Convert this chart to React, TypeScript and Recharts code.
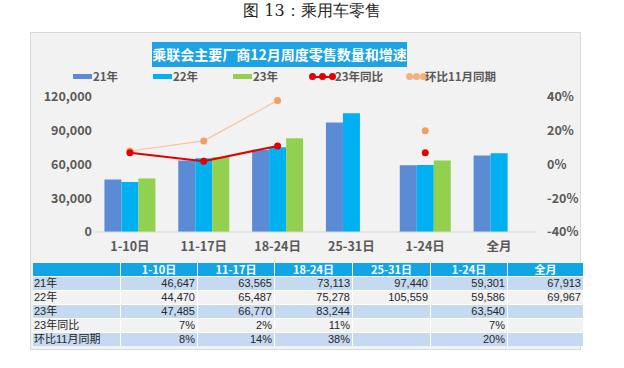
import React from 'react';
import { ComposedChart, Bar, Line, XAxis, YAxis } from 'recharts';

const categories = ['1-10日', '11-17日', '18-24日', '25-31日', '1-24日', '全月'];
const sales21 = [46647, 63565, 73113, 97440, 59301, 67913];
const sales22 = [44470, 65487, 75278, 105559, 59586, 69967];
const sales23: (number | null)[] = [47485, 66770, 83244, null, 63540, null];
const yoy23: (number | null)[] = [0.07, 0.02, 0.11, null, 0.07, null];
const momNov: (number | null)[] = [0.08, 0.14, 0.38, null, 0.2, null];
const seriesNames = ['21年', '22年', '23年', '23年同比', '环比11月同期'];
const leftTicks = [0, 30000, 60000, 90000, 120000];
const rightTicks = [-0.4, -0.2, 0, 0.2, 0.4];
const captionText = '图 13：乘用车零售';
const titleText = '乘联会主要厂商12月周度零售数量和增速';

const C21 = '#5B8BD4';
const C22 = '#00B0F0';
const C23 = '#92D050';
const CRED = '#E00000';
const CORG_LINE = '#F6C6A0';
const CORG_DOT = '#F0A060';

const data = categories.map((c, i) => ({
  cat: c,
  s21: sales21[i],
  s22: sales22[i],
  s23: sales23[i],
  yoy: yoy23[i],
  mom: momNov[i],
}));

const fmtNum = (v: number | null) => (v == null ? '' : v.toLocaleString('en-US'));
const fmtPct = (v: number | null) => (v == null ? '' : Math.round(v * 100) + '%');

const FONT = '"Noto Sans CJK SC", "Liberation Sans", sans-serif';
const TFONT = '"Liberation Sans", "Noto Sans CJK SC", sans-serif';

const tickStyle = { fill: '#595959', fontSize: 12.5, fontWeight: 700, fontFamily: FONT };

function Legend() {
  const txt: React.CSSProperties = {
    position: 'absolute',
    top: 69,
    fontSize: 11.5,
    fontWeight: 700,
    color: '#595959',
    fontFamily: FONT,
    lineHeight: '14px',
    whiteSpace: 'nowrap',
  };
  const sw = (left: number, color: string) => (
    <div style={{ position: 'absolute', left, top: 74, width: 19, height: 5, background: color }} />
  );
  const dotLine = (xs: number[], color: string, lineColor: string) => (
    <>
      <div style={{ position: 'absolute', left: xs[0], top: 75.5, width: xs[2] - xs[0], height: 2, background: lineColor }} />
      {xs.map((x, i) => (
        <div key={i} style={{ position: 'absolute', left: x - 3.5, top: 73, width: 7, height: 7, borderRadius: 4, background: color }} />
      ))}
    </>
  );
  return (
    <>
      {sw(73, C21)}
      <div style={{ ...txt, left: 93 }}>{seriesNames[0]}</div>
      {sw(153, C22)}
      <div style={{ ...txt, left: 173 }}>{seriesNames[1]}</div>
      {sw(233, C23)}
      <div style={{ ...txt, left: 253 }}>{seriesNames[2]}</div>
      {dotLine([312, 322, 332], CRED, CRED)}
      <div style={{ ...txt, left: 335 }}>{seriesNames[3]}</div>
      {dotLine([409, 416, 423], '#F2B27E', CORG_LINE)}
      <div style={{ ...txt, left: 425 }}>{seriesNames[4]}</div>
    </>
  );
}

function DataTable() {
  const colW = [87, 76, 76, 77, 77, 76, 75];
  const rows: { label: string; values: string[] }[] = [
    { label: seriesNames[0], values: sales21.map(fmtNum) },
    { label: seriesNames[1], values: sales22.map(fmtNum) },
    { label: seriesNames[2], values: sales23.map(fmtNum) },
    { label: seriesNames[3], values: yoy23.map(fmtPct) },
    { label: seriesNames[4], values: momNov.map(fmtPct) },
  ];
  const rowH = 13;
  const cell = (content: string, w: number, bg: string, align: 'left' | 'right' | 'center', header = false, key?: any) => (
    <div
      key={key}
      style={{
        width: w,
        height: rowH,
        background: bg,
        textAlign: align,
        fontSize: 11,
        lineHeight: rowH + 'px',
        fontFamily: header ? FONT : TFONT,
        fontWeight: header ? 700 : 400,
        color: header ? '#FFFFFF' : '#262626',
        paddingLeft: align === 'left' ? 1 : 0,
        paddingRight: align === 'right' ? 2 : 0,
        boxSizing: 'border-box',
        whiteSpace: 'nowrap',
      }}
    >
      {content}
    </div>
  );
  const HB = '#12A5E6';
  return (
    <div
      style={{
        position: 'absolute',
        left: 33,
        top: 263,
        display: 'flex',
        flexDirection: 'column',
        gap: 1,
        background: '#FFFFFF',
      }}
    >
      <div style={{ display: 'flex', gap: 1 }}>
        {cell('', colW[0], HB, 'center', true)}
        {categories.map((c, i) => cell(c, colW[i + 1], HB, 'center', true, i))}
      </div>
      {rows.map((r, ri) => {
        const bg = ri % 2 === 0 ? '#C5D9F1' : '#F2F2F2';
        return (
          <div key={ri} style={{ display: 'flex', gap: 1 }}>
            <div
              style={{
                width: colW[0],
                height: rowH,
                background: bg,
                fontSize: 11,
                lineHeight: rowH + 'px',
                fontFamily: TFONT,
                color: '#262626',
                paddingLeft: 1,
                boxSizing: 'border-box',
                whiteSpace: 'nowrap',
              }}
            >
              {r.label}
            </div>
            {r.values.map((v, i) => cell(v, colW[i + 1], bg, 'right', false, i))}
          </div>
        );
      })}
    </div>
  );
}

export default function App() {
  return (
    <div style={{ position: 'absolute', left: 0, top: 0, width: 624, height: 368, background: '#FFFFFF', overflow: 'hidden' }}>
      <div
        style={{
          position: 'absolute',
          left: 0,
          top: 2,
          width: 624,
          textAlign: 'center',
          fontSize: 16,
          fontFamily: '"DejaVu Serif", serif',
          color: '#262626',
          lineHeight: '18px',
        }}
      >
        {captionText}
      </div>
      <div
        style={{
          position: 'absolute',
          left: 30,
          top: 32,
          width: 551,
          height: 318,
          background: '#F2F2F2',
          border: '1px solid #D9D9D9',
          boxSizing: 'border-box',
        }}
      />
      <div
        style={{
          position: 'absolute',
          left: 152,
          top: 42,
          width: 255,
          height: 25,
          background: '#1BA3E6',
          color: '#FFFFFF',
          fontFamily: FONT,
          fontWeight: 700,
          fontSize: 14,
          lineHeight: '25px',
          textAlign: 'center',
          whiteSpace: 'nowrap',
        }}
      >
        {titleText}
      </div>
      <Legend />
      <div style={{ position: 'absolute', left: 30, top: 32 }}>
        <ComposedChart
          width={551}
          height={228}
          data={data}
          margin={{ top: 65, right: 0, left: 0, bottom: 0 }}
          barGap={0}
          barCategoryGap="15.5%"
        >
          <XAxis
            dataKey="cat"
            height={28}
            tickLine={false}
            tickSize={0}
            tickMargin={10}
            axisLine={{ stroke: '#D9D9D9' }}
            tick={tickStyle}
            interval={0}
          />
          <YAxis
            yAxisId="left"
            orientation="left"
            width={63}
            domain={[0, 120000]}
            ticks={leftTicks}
            tickFormatter={(v: number) => v.toLocaleString('en-US')}
            axisLine={false}
            tickLine={false}
            tickSize={0}
            tickMargin={1}
            tick={tickStyle}
          />
          <YAxis
            yAxisId="right"
            orientation="right"
            width={45}
            domain={[-0.4, 0.4]}
            ticks={rightTicks}
            tickFormatter={(v: number) => Math.round(v * 100) + '%'}
            axisLine={false}
            tickLine={false}
            tickSize={0}
            tickMargin={11}
            tick={{ ...tickStyle, textAnchor: 'start' }}
          />
          <Bar yAxisId="left" dataKey="s21" fill={C21} isAnimationActive={false} />
          <Bar yAxisId="left" dataKey="s22" fill={C22} isAnimationActive={false} />
          <Bar yAxisId="left" dataKey="s23" fill={C23} isAnimationActive={false} />
          <Line
            yAxisId="right"
            dataKey="mom"
            stroke={CORG_LINE}
            strokeWidth={1.2}
            dot={{ r: 3.5, fill: CORG_DOT, stroke: CORG_DOT, strokeWidth: 0 }}
            activeDot={false}
            isAnimationActive={false}
            connectNulls={false}
          />
          <Line
            yAxisId="right"
            dataKey="yoy"
            stroke={CRED}
            strokeWidth={2}
            dot={{ r: 3.5, fill: CRED, stroke: CRED, strokeWidth: 0 }}
            activeDot={false}
            isAnimationActive={false}
            connectNulls={false}
          />
        </ComposedChart>
      </div>
      <DataTable />
    </div>
  );
}
